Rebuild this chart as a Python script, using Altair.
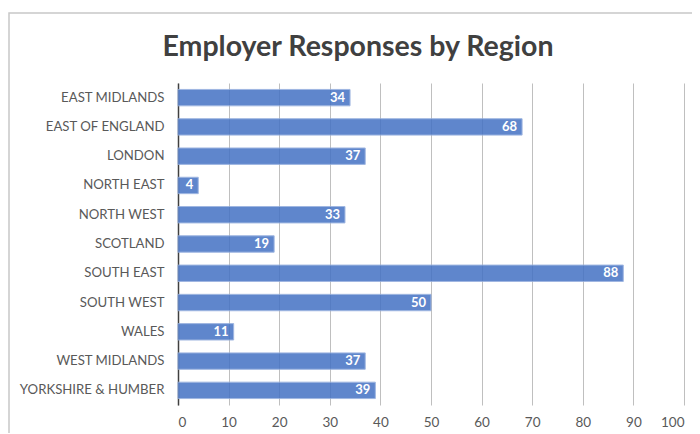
import altair as alt
import pandas as pd

regions = ["EAST MIDLANDS", "EAST OF ENGLAND", "LONDON", "NORTH EAST", "NORTH WEST",
           "SCOTLAND", "SOUTH EAST", "SOUTH WEST", "WALES", "WEST MIDLANDS",
           "YORKSHIRE & HUMBER"]
responses = [34, 68, 37, 4, 33, 19, 88, 50, 11, 37, 39]
x_ticks = [0, 10, 20, 30, 40, 50, 60, 70, 80, 90, 100]

df = pd.DataFrame({"region": regions, "responses": responses})

FONT = "Lato"

y_enc = alt.Y("region:N", sort=regions, title=None,
              scale=alt.Scale(paddingInner=0.44, paddingOuter=0.22),
              axis=alt.Axis(domain=True, domainColor="#404040", domainWidth=1.5,
                            ticks=False, labelPadding=14, labelFontSize=13.2,
                            labelColor="#595959", labelFont=FONT, grid=False))
x_enc = alt.X("responses:Q", title=None,
              scale=alt.Scale(domain=[0, 100], nice=False),
              axis=alt.Axis(values=x_ticks, domain=False, ticks=False, grid=True,
                            gridColor="#BFBFBF", gridWidth=1, labelPadding=10,
                            labelFontSize=13.5, labelColor="#595959", labelFont=FONT))

frame = alt.Chart(pd.DataFrame({"a": [0]})).mark_rect(
    fill="transparent", stroke="#C8C8C8", strokeWidth=1.5
).encode(x=alt.value(-169), x2=alt.value(560), y=alt.value(-70), y2=alt.value(400))

bars = alt.Chart(df).mark_bar(color="#4472C4", opacity=0.85, stroke="#8FAADC",
                              strokeWidth=1).encode(x=x_enc, y=y_enc)

labels = alt.Chart(df).mark_text(align="right", baseline="middle", dx=-5,
                                 color="white", fontWeight="bold", fontSize=13,
                                 font=FONT).encode(
    x="responses:Q", y=alt.Y("region:N", sort=regions), text="responses:Q")

chart = alt.layer(frame, bars, labels).properties(
    width=506, height=322,
    title=alt.TitleParams("Employer Responses by Region", font=FONT, fontSize=28.5,
                          fontWeight="bold", color="#404040", anchor="middle",
                          dx=-73, offset=-49),
    autosize=alt.AutoSizeParams(type="none"),
    padding={"left": 170, "top": 75, "right": 8, "bottom": 28},
).configure_view(stroke=None)

chart.save("out.html", embed_options={"renderer": "svg", "actions": False})
